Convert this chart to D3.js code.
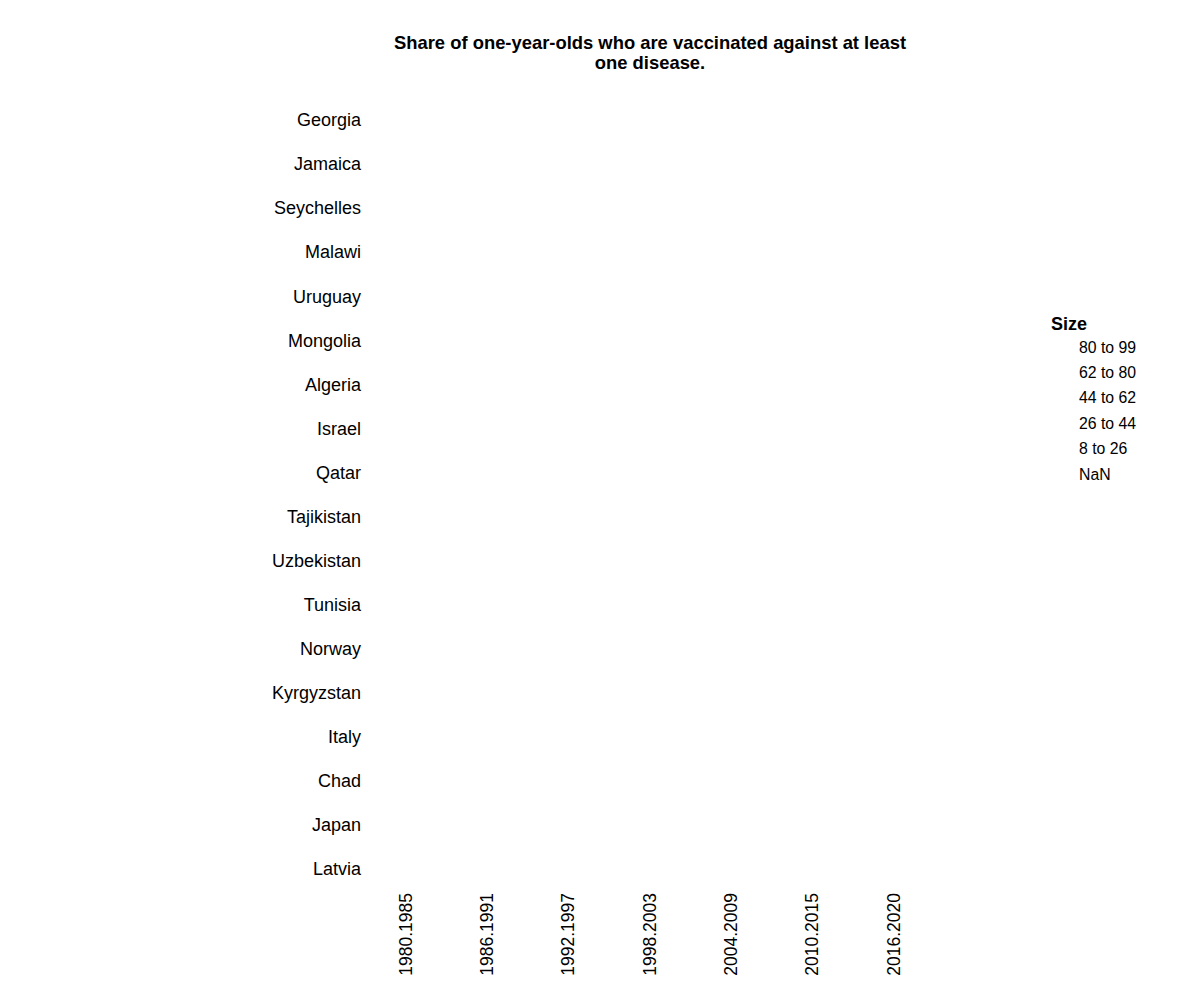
<!DOCTYPE html>
<html>
<head>
<meta charset="utf-8">
<script src="https://cdn.jsdelivr.net/npm/d3@7"></script>
<style>
  body { margin: 0; background: #fff; }
  svg { font-family: "Liberation Sans", Arial, sans-serif; }
</style>
</head>
<body>
<svg id="chart" width="1200" height="1000"></svg>
<script>
// ---- data ----
const countries = ["Georgia", "Jamaica", "Seychelles", "Malawi", "Uruguay", "Mongolia", "Algeria",
  "Israel", "Qatar", "Tajikistan", "Uzbekistan", "Tunisia", "Norway", "Kyrgyzstan", "Italy",
  "Chad", "Japan", "Latvia"];
const periods = ["1980.1985", "1986.1991", "1992.1997", "1998.2003", "2004.2009", "2010.2015", "2016.2020"];
const legendLabels = ["80 to 99", "62 to 80", "44 to 62", "26 to 44", "8 to 26", "NaN"];
// No bubbles are visible in the reference: every cell's size is unreadable (NaN)
const sizes = countries.map(() => periods.map(() => NaN));

const title1 = "Share of one-year-olds who are vaccinated against at least";
const title2 = "one disease.";

// ---- drawing ----
const svg = d3.select("#chart");

const x = d3.scalePoint().domain(periods).range([405, 893]);
const y = d3.scalePoint().domain(countries).range([120, 869]);
const r = d3.scaleSqrt().domain([8, 99]).range([3, 20]);

svg.append("text").attr("x", 650).attr("y", 48.5).attr("text-anchor", "middle")
  .attr("font-size", 18.4).attr("font-weight", "bold").text(title1);
svg.append("text").attr("x", 650).attr("y", 68.5).attr("text-anchor", "middle")
  .attr("font-size", 18.4).attr("font-weight", "bold").text(title2);

// bubbles
const cells = [];
countries.forEach((c, i) => periods.forEach((p, j) => cells.push({c, p, v: sizes[i][j]})));
svg.append("g").selectAll("circle")
  .data(cells.filter(d => Number.isFinite(d.v)))
  .join("circle")
  .attr("cx", d => x(d.p)).attr("cy", d => y(d.c)).attr("r", d => r(d.v))
  .attr("fill", "#4682b4");

// y axis
const gy = svg.append("g").attr("transform", "translate(361,0)")
  .call(d3.axisLeft(y).tickSize(0).tickPadding(0));
gy.select(".domain").remove();
gy.selectAll("text").attr("font-size", 18).attr("fill", "#000")
  .style("font-family", "'Liberation Sans', Arial, sans-serif");

// x axis
const gx = svg.append("g").attr("transform", "translate(0,893)")
  .call(d3.axisBottom(x).tickSize(0).tickPadding(0));
gx.select(".domain").remove();
gx.selectAll("text").attr("font-size", 17.5).attr("fill", "#000")
  .style("font-family", "'Liberation Sans', Arial, sans-serif")
  .attr("text-anchor", "end").attr("transform", "rotate(-90)")
  .attr("x", 0).attr("y", 0).attr("dx", 0).attr("dy", "0.35em");

// legend
const lg = svg.append("g");
lg.append("text").attr("x", 1051).attr("y", 329.5).attr("font-size", 18)
  .attr("font-weight", "bold").text("Size");
lg.selectAll("text.item").data(legendLabels).join("text").attr("class", "item")
  .attr("x", 1079).attr("y", (d, i) => 352.5 + i * 25.4)
  .attr("font-size", 15.8).text(d => d);
</script>
</body>
</html>
